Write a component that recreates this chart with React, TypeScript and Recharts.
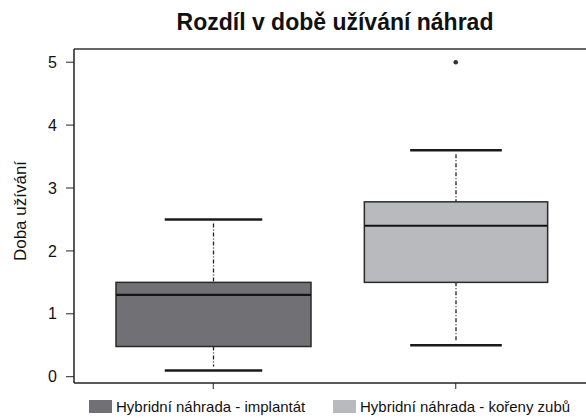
import {
  ComposedChart,
  Bar,
  Scatter,
  XAxis,
  YAxis,
  ReferenceLine,
} from "recharts";

const CATEGORIES = ["Hybridní náhrada - implantát", "Hybridní náhrada - kořeny zubů"];
const MIN = [0.1, 0.5];
const Q1 = [0.48, 1.5];
const MEDIAN = [1.3, 2.4];
const Q3 = [1.5, 2.78];
const MAX = [2.5, 3.6];
const OUTLIER: (number | null)[] = [null, 5.0];
const Y_TICKS = [0, 1, 2, 3, 4, 5];

const TITLE = "Rozdíl v době užívání náhrad";
const Y_LABEL = "Doba užívání";

const FILLS = ["#717175", "#b9babd"];
const WIDTH_RATIO = [1, 0.94];
const FONT = "'Liberation Sans', Arial, Helvetica, sans-serif";
const Y_DOMAIN: [number, number] = [-0.1, 5.21];

const data = CATEGORIES.map((name, i) => ({
  name,
  range: [MIN[i], MAX[i]],
  q1: Q1[i],
  median: MEDIAN[i],
  q3: Q3[i],
  min: MIN[i],
  max: MAX[i],
  outlier: OUTLIER[i],
}));

// draws a whole box + whiskers inside the [min, max] range bar
function BoxShape(props: any) {
  const { x, y, width, height, payload, index } = props;
  const top = Math.min(y, y + height);
  const h = Math.abs(height);
  const px = (v: number) =>
    top + ((payload.max - v) / (payload.max - payload.min)) * h;
  const cx = x + width / 2;
  const w = width * WIDTH_RATIO[index];
  const cap = w / 2;
  const yMax = px(payload.max);
  const yMin = px(payload.min);
  const yQ3 = px(payload.q3);
  const yQ1 = px(payload.q1);
  const yMed = px(payload.median);
  return (
    <g>
      <line x1={cx} x2={cx} y1={yMax + 4} y2={yQ3} stroke="#222" strokeWidth={1.3} strokeDasharray="4 2 1 2" />
      <line x1={cx} x2={cx} y1={yQ1} y2={yMin - 4} stroke="#222" strokeWidth={1.3} strokeDasharray="4 2 1 2" />
      <line x1={cx - cap / 2} x2={cx + cap / 2} y1={yMax} y2={yMax} stroke="#1a1a1a" strokeWidth={2.5} />
      <line x1={cx - cap / 2} x2={cx + cap / 2} y1={yMin} y2={yMin} stroke="#1a1a1a" strokeWidth={2.5} />
      <rect x={cx - w / 2} y={yQ3} width={w} height={yQ1 - yQ3} fill={FILLS[index]} stroke="#2a2a2a" strokeWidth={1.5} />
      <line x1={cx - w / 2} x2={cx + w / 2} y1={yMed} y2={yMed} stroke="#151515" strokeWidth={2.2} />
    </g>
  );
}

function OutlierDot(props: any) {
  const { cx, cy } = props;
  if (cx == null || cy == null) return <g />;
  return <circle cx={cx} cy={cy} r={2.3} fill="#333" />;
}

export default function App() {
  return (
    <div style={{ position: "absolute", left: 0, top: 0, width: 586, height: 418, background: "#fff", fontFamily: FONT }}>
      <div
        style={{
          position: "absolute",
          left: 335,
          top: 9,
          transform: "translateX(-50%)",
          whiteSpace: "nowrap",
          fontSize: 23,
          fontWeight: "bold",
          color: "#111",
        }}
      >
        {TITLE}
      </div>
      <ComposedChart
        width={586}
        height={418}
        data={data}
        margin={{ top: 49, right: 0, bottom: 0, left: 0 }}
        barSize={195}
        style={{ fontFamily: FONT }}
      >
        <XAxis
          dataKey="name"
          padding={{ left: 18, right: 9 }}
          tickFormatter={() => ""}
          tickSize={6}
          axisLine={{ stroke: "#222", strokeWidth: 1.5 }}
          tickLine={{ stroke: "#222" }}
          height={35}
        />
        <YAxis
          type="number"
          domain={Y_DOMAIN}
          ticks={Y_TICKS}
          allowDataOverflow
          width={74}
          tickSize={8}
          tickMargin={9}
          axisLine={{ stroke: "#222", strokeWidth: 1.5 }}
          tickLine={{ stroke: "#222" }}
          tick={{ fill: "#111", fontSize: 16 }}
          label={{
            value: Y_LABEL,
            angle: -90,
            position: "insideLeft",
            offset: 20,
            dy: -5,
            style: { textAnchor: "middle", fill: "#111", fontSize: 17 },
          }}
        />
        <ReferenceLine y={Y_DOMAIN[1]} stroke="#333" strokeWidth={1.5} ifOverflow="extendDomain" />
        <Bar dataKey="range" shape={<BoxShape />} isAnimationActive={false} />
        <Scatter dataKey="outlier" shape={<OutlierDot />} isAnimationActive={false} />
      </ComposedChart>
      {CATEGORIES.map((c, i) => (
        <div
          key={c}
          style={{
            position: "absolute",
            left: i === 0 ? 89 : 333,
            top: 398,
            display: "flex",
            alignItems: "center",
            whiteSpace: "nowrap",
            fontSize: 15,
            color: "#111",
          }}
        >
          <span style={{ display: "inline-block", width: 23, height: 13, background: FILLS[i], marginRight: 4 }} />
          {c}
        </div>
      ))}
    </div>
  );
}
